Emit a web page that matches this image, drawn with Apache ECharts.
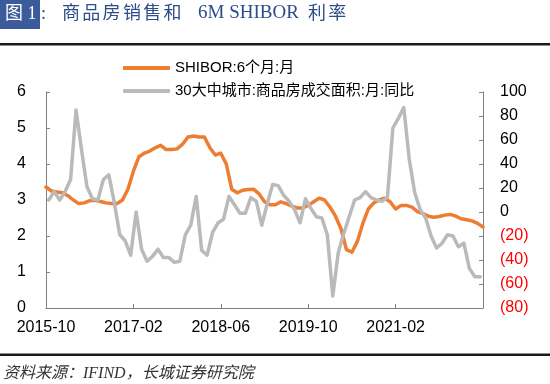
<!DOCTYPE html>
<html>
<head>
<meta charset="utf-8">
<script src="https://cdn.jsdelivr.net/npm/echarts@6/dist/echarts.min.js"></script>
<style>html,body{margin:0;padding:0;background:#fff;}#c{width:550px;height:384px;}</style>
</head>
<body>
<div id="c"></div>
<script>
var categories = [
'2015-10','2015-11','2015-12',
'2016-01','2016-02','2016-03','2016-04','2016-05','2016-06','2016-07','2016-08','2016-09','2016-10','2016-11','2016-12',
'2017-01','2017-02','2017-03','2017-04','2017-05','2017-06','2017-07','2017-08','2017-09','2017-10','2017-11','2017-12',
'2018-01','2018-02','2018-03','2018-04','2018-05','2018-06','2018-07','2018-08','2018-09','2018-10','2018-11','2018-12',
'2019-01','2019-02','2019-03','2019-04','2019-05','2019-06','2019-07','2019-08','2019-09','2019-10','2019-11','2019-12',
'2020-01','2020-02','2020-03','2020-04','2020-05','2020-06','2020-07','2020-08','2020-09','2020-10','2020-11','2020-12',
'2021-01','2021-02','2021-03','2021-04','2021-05','2021-06','2021-07','2021-08','2021-09','2021-10','2021-11','2021-12',
'2022-01','2022-02','2022-03','2022-04','2022-05','2022-06'
];
// SHIBOR 6M (%), monthly, 2015-10 .. 2022-06
var shibor6m = [
3.36,3.25,3.22,3.2,3.12,3.0,2.9,2.92,2.98,2.99,
2.96,2.92,2.9,2.9,3.0,3.3,3.8,4.2,4.3,4.36,
4.45,4.52,4.4,4.4,4.42,4.55,4.75,4.78,4.75,4.75,
4.45,4.25,4.3,4.0,3.3,3.2,3.27,3.29,3.3,3.17,
2.95,2.87,2.87,2.95,2.9,2.83,2.78,2.78,2.85,2.95,
3.05,3.0,2.8,2.55,2.2,1.62,1.55,1.85,2.35,2.75,
2.92,3.0,3.05,2.95,2.75,2.85,2.85,2.8,2.68,2.62,
2.55,2.52,2.54,2.58,2.6,2.55,2.48,2.45,2.42,2.35,
2.25
];
// 30-city commodity housing transaction area YoY (%), monthly, 2015-10 .. 2022-05
var salesCategories = categories.slice(0, 80);
var salesYoY = [
10,17,10,17,27,85,52,21,11,10,
27,31,8,-19,-24,-36,0,-31,-41,-37,
-31,-38,-38,-42,-41,-19,-11,13,-32,-36,
-17,-9,-6,13,6,-1,-1,12,9,-11,
7,23,22,14,9,2,-9,11,3,-4,
-5,-19,-70,-34,-18,-4,10,12,17,12,
10,9,12,70,78,87,44,16,2,-5,
-20,-30,-26,-19,-20,-29,-26,-47,-54,-54
];
var leftTicks = {min:0, max:6, interval:1};
var rightTicks = {min:-80, max:100, interval:20};
var seriesNames = ['SHIBOR:6个月:月', '30大中城市:商品房成交面积:月:同比'];
var titleParts = ['图 1', ':', '商品房销售和', '6M SHIBOR', '利率'];
var footerText = '资料来源：IFIND，长城证券研究院';

var SANS = '"Liberation Sans","Noto Sans CJK SC",sans-serif';
var SERIF = '"Liberation Serif","Noto Sans CJK SC",serif';
var axisColor = '#808080';
var titleColor = '#2D4C8A';

var graphics = [
  {type:'rect', left:0, top:0, shape:{width:40, height:29}, style:{fill:'#3C5B9B'}},
  {type:'text', left:5, top:5, style:{text:titleParts[0], fill:'#fff', font:'18px '+SERIF}},
  {type:'text', left:41, top:5, style:{text:titleParts[1], fill:titleColor, font:'18px '+SERIF}}
];
titleParts[2].split('').forEach(function(ch, j){
  graphics.push({type:'text', left:62 + 20.3*j, top:5, style:{text:ch, fill:titleColor, font:'18px '+SERIF}});
});
graphics.push({type:'text', left:198, top:4, style:{text:titleParts[3], fill:titleColor, font:'19px '+SERIF}});
titleParts[4].split('').forEach(function(ch, j){
  graphics.push({type:'text', left:308 + 20.3*j, top:5, style:{text:ch, fill:titleColor, font:'18px '+SERIF}});
});
graphics.push(
  {type:'rect', left:0, top:43, shape:{width:550, height:2.5}, style:{fill:'#1a1a1a'}},
  {type:'rect', left:0, top:353.5, shape:{width:550, height:2.5}, style:{fill:'#1a1a1a'}},
  {type:'text', left:3, top:366, style:{text:footerText, fill:'#333', font:'italic 16px '+SERIF}}
);

var chart = echarts.init(document.getElementById('c'), null, {renderer:'canvas'});
chart.setOption({
  animation: false,
  backgroundColor: '#fff',
  grid: {left:46, right:67, top:92, bottom:76, containLabel:false},
  legend: [
    {data:[seriesNames[0]], left:118, top:54, itemWidth:47, itemHeight:4, icon:'roundRect', itemGap:0,
     textStyle:{fontFamily:SANS, fontSize:15, color:'#000', lineHeight:18}},
    {data:[seriesNames[1]], left:118, top:77, itemWidth:47, itemHeight:4, icon:'roundRect', itemGap:0,
     textStyle:{fontFamily:SANS, fontSize:15, color:'#000', lineHeight:18}}
  ],
  xAxis: [{
    type:'category', data:categories, boundaryGap:false,
    axisLine:{lineStyle:{color:axisColor, width:1}},
    axisTick:{inside:true, length:4, lineStyle:{color:axisColor}, interval:function(i){return i%16===0;}},
    axisLabel:{interval:function(i){return i%16===0 && i<80;}, margin:12, fontFamily:SANS, fontSize:16, color:'#000'},
    splitLine:{show:false}
  }, {
    type:'category', data:salesCategories, boundaryGap:true, show:false, position:'bottom'
  }],
  yAxis: [
    {type:'value', min:leftTicks.min, max:leftTicks.max, interval:leftTicks.interval, position:'left',
     axisLine:{show:true, lineStyle:{color:axisColor, width:1}},
     axisTick:{show:true, inside:true, length:4, lineStyle:{color:axisColor}},
     axisLabel:{margin:20, fontFamily:SANS, fontSize:16, color:'#000'},
     splitLine:{show:false}},
    {type:'value', min:rightTicks.min, max:rightTicks.max, interval:rightTicks.interval, position:'right',
     axisLine:{show:true, lineStyle:{color:axisColor, width:1}},
     axisTick:{show:true, inside:true, length:4, lineStyle:{color:axisColor}},
     axisLabel:{margin:17, fontFamily:SANS, fontSize:16, align:'left',
       formatter:function(v){return v<0 ? '('+(-v)+')' : String(v);},
       color:function(v){return Number(v)<0 ? '#FF0000' : '#000';}},
     splitLine:{show:false}}
  ],
  series: [
    {name:seriesNames[0], type:'line', xAxisIndex:0, yAxisIndex:0, data:shibor6m, symbol:'none',
     lineStyle:{color:'#ED7D31', width:3.5, join:'round', cap:'round'}, itemStyle:{color:'#ED7D31'}},
    {name:seriesNames[1], type:'line', xAxisIndex:1, yAxisIndex:1, data:salesYoY, symbol:'none',
     lineStyle:{color:'#BABABA', width:3.5, join:'round', cap:'round'}, itemStyle:{color:'#BABABA'}}
  ],
  graphic: graphics
});
</script>
</body>
</html>
